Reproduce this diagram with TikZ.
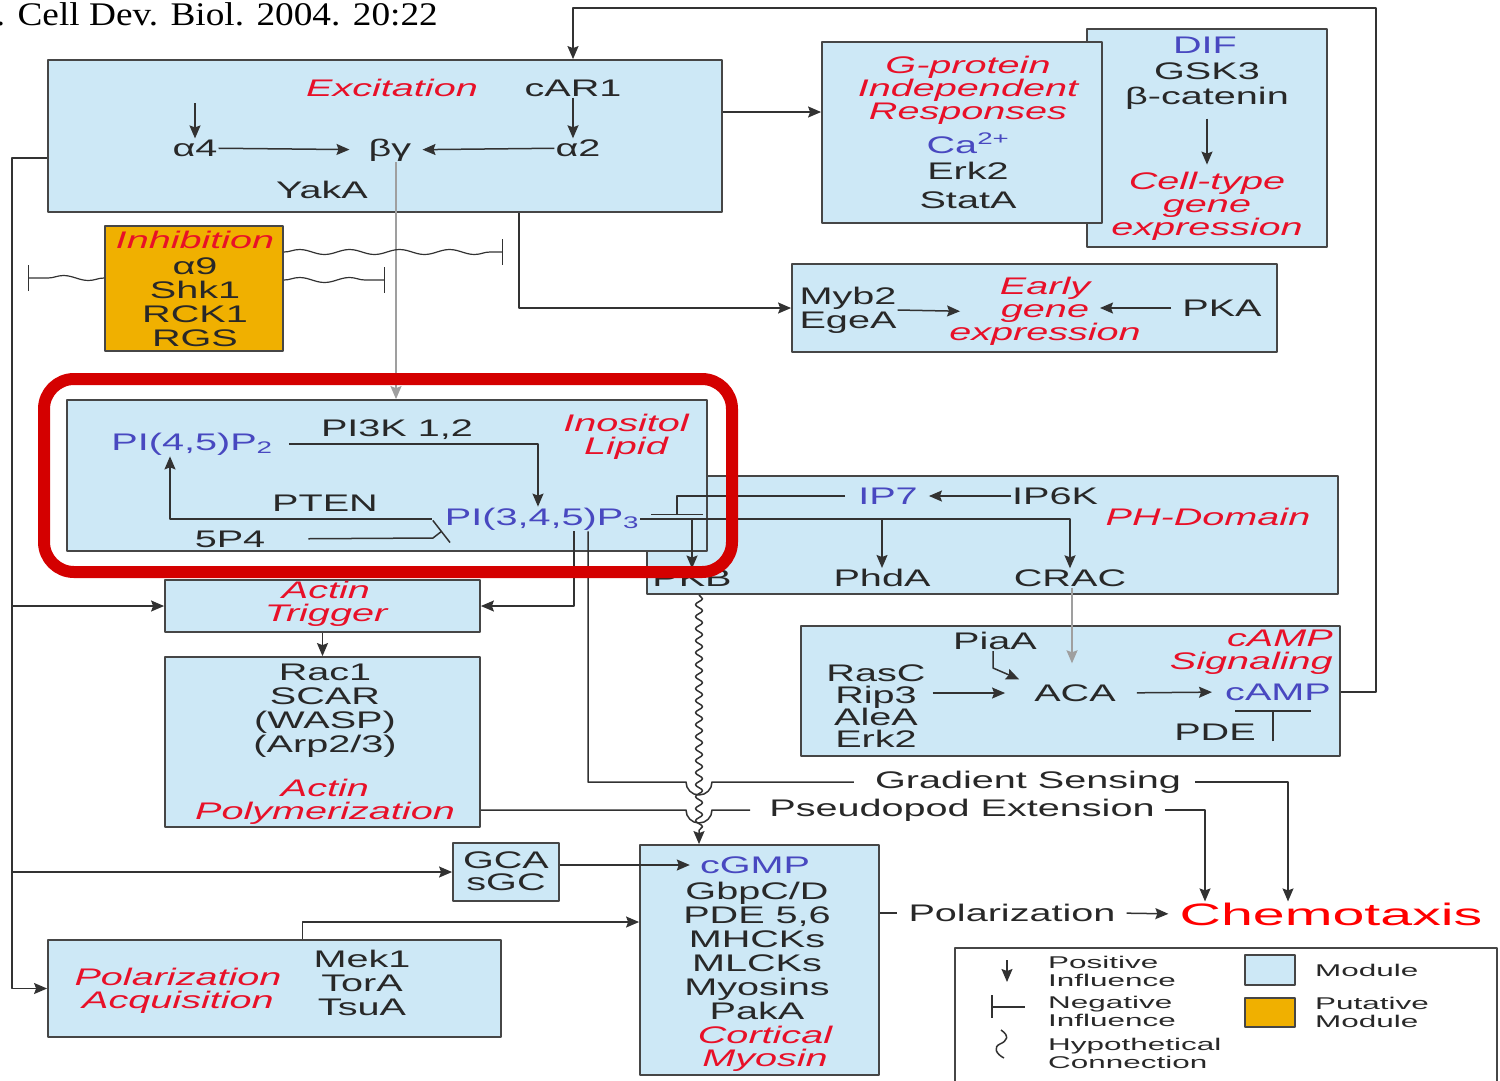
\documentclass[tikz,border=0pt]{standalone}
\usepackage{fontspec}
\setmainfont{Liberation Sans}[FakeStretch=1.65]
\newfontfamily\widefont{Liberation Sans}[FakeStretch=1.85]
\newfontfamily\citefont{Liberation Serif}[FakeStretch=1.13]
\usepackage{tikz}
\usetikzlibrary{arrows.meta,fit,decorations.pathmorphing}
\definecolor{modfill}{RGB}{205,232,246}
\definecolor{putfill}{RGB}{240,176,0}
\definecolor{boxline}{RGB}{70,70,70}
\definecolor{wire}{RGB}{50,50,50}
\definecolor{titred}{RGB}{232,16,40}
\definecolor{molblue}{RGB}{72,72,192}
\definecolor{txtgray}{RGB}{40,40,40}
\definecolor{focusred}{RGB}{212,0,0}

\begin{document}
\begin{tikzpicture}[x=1pt, y=-1pt, >={Stealth[length=13pt, width=11pt, inset=2pt]}, line join=round,
	modul/.style={draw=boxline, fill=modfill, line width=1.8pt, inner sep=0pt},
	putativ/.style={modul, fill=putfill},
	lbl/.style={font=\fontsize{24}{24}\selectfont, text=txtgray, align=center, inner sep=1pt},
	tit/.style={lbl, font=\fontsize{24}{23}\selectfont\itshape, text=titred},
	mol/.style={lbl, text=molblue},
	leg/.style={font=\widefont\fontsize{17}{18}\selectfont, text=txtgray, align=left, anchor=west, inner sep=0pt},
	conn/.style={draw=wire, line width=1.5pt},
	act/.style={conn, ->},
	inhib/.style={conn, -{Bar[width=#1]}},
	inhib/.default=26pt,
	hyp/.style={conn, decorate, decoration={snake, amplitude=3.5pt, segment length=12pt, post length=12pt}},
	hypneg/.style={conn, line width=1.2pt, decorate, decoration={snake, amplitude=2.5pt, segment length=50pt, post length=1pt}, -{Bar[width=26pt]}}]
	\useasboundingbox (0,0) rectangle (1500,1080);
	% Trích dẫn
	\node[font=\citefont\fontsize{33}{33}\selectfont, anchor=base east, inner sep=0pt] (cite) at (438,25) {. Cell Dev. Biol. 2004. 20:22};
	% Các khung module
	\node[modul, fit={(48,60) (722,212)}] (exc) {};
	\node[putativ, fit={(105,226) (283,351)}] (inh) {};
	\node[modul, fit={(1087,29) (1327,247)}] (dif) {};
	\node[modul, fit={(822,42) (1102,223)}] (gpi) {};
	\node[modul, fit={(792,264) (1277,352)}] (egx) {};
	\node[modul, fit={(647,476) (1338,594)}] (phd) {};
	\node[modul, fit={(67,400) (707,551)}] (ino) {};
	\node[modul, fit={(165,580) (480,632)}] (atr) {};
	\node[modul, fit={(165,657) (480,827)}] (apo) {};
	\node[modul, fit={(801,626) (1340,756)}] (cas) {};
	\node[modul, fit={(453,843) (559,901)}] (gca) {};
	\node[modul, fit={(640,845) (879,1075)}] (cmy) {};
	\node[modul, fit={(48,940) (501,1037)}] (pac) {};
	% Nhãn: Excitation
	\node[tit] (excT) at (392,88) {Excitation};
	\node[lbl] (car1) at (573,88) {cAR1};
	\node[lbl] (a4) at (195,148) {α4};
	\node[lbl] (bg) at (390,150) {βγ};
	\node[lbl] (a2) at (578,148) {α2};
	\node[lbl] (yaka) at (322,190) {YakA};
	% Nhãn: Inhibition
	\node[tit] (inhT) at (195,240) {Inhibition};
	\node[lbl] (inhM) at (195,302) {α9\\Shk1\\RCK1\\RGS};
	% Nhãn: G-protein, DIF, Early gene
	\node[tit] (gpiT) at (968,90) {G-protein\\Independent\\Responses};
	\node[mol] (ca) at (968,143) {Ca\textsuperscript{2+}};
	\node[lbl] (gpiM) at (968,185) {Erk2\\[5pt]StatA};
	\node[mol] (difM) at (1205,45) {DIF};
	\node[lbl] (gsk) at (1207,86) {GSK3\\[1pt]β-catenin};
	\node[tit] (ctyp) at (1207,206) {Cell-type\\gene\\expression};
	\node[lbl] (myb) at (848,310) {Myb2\\EgeA};
	\node[tit] (egT) at (1045,311) {Early\\gene\\expression};
	\node[lbl] (pka) at (1222,308) {PKA};
	% Nhãn: Inositol Lipid, PH-Domain
	\node[mol] (pip2) at (192,444) {PI(4,5)P\textsubscript{2}};
	\node[lbl] (pi3k) at (397,430) {PI3K 1,2};
	\node[tit] (inoT) at (626,437) {Inositol\\Lipid};
	\node[lbl] (pten) at (325,503) {PTEN};
	\node[mol] (pip3) at (542,519) {PI(3,4,5)P\textsubscript{3}};
	\node[lbl] (p54) at (230,539) {5P4};
	\node[mol] (ip7) at (888,496) {IP7};
	\node[lbl] (ip6k) at (1055,496) {IP6K};
	\node[tit] (phT) at (1208,517) {PH-Domain};
	\node[lbl] (pkb) at (692,578) {PKB};
	\node[lbl] (phda) at (882,578) {PhdA};
	\node[lbl] (crac) at (1070,578) {CRAC};
	% Nhãn: cAMP Signaling
	\node[lbl] (piaa) at (995,641) {PiaA};
	\node[lbl] (rasc) at (876,706) {RasC\\[-2pt]Rip3\\[-2pt]AleA\\[-2pt]Erk2};
	\node[lbl] (aca) at (1075,693) {ACA};
	\node[mol] (camp) at (1278,692) {cAMP};
	\node[tit, align=right, anchor=east] (casT) at (1334,652) {cAMP\\Signaling};
	\node[lbl] (pde) at (1215,732) {PDE};
	% Nhãn: Actin, GCA, Cortical Myosin, Polarization Acquisition
	\node[tit] (atrT) at (326,604) {Actin\\Trigger};
	\node[lbl] (apoM) at (325,711) {Rac1\\SCAR\\(WASP)\\(Arp2/3)};
	\node[tit] (apoT) at (325,802) {Actin\\Polymerization};
	\node[lbl] (gcaM) at (506,871) {GCA\\[-2pt]sGC};
	\node[mol] (cgmp) at (755,865) {cGMP};
	\node[lbl] (cmyM) at (757,951) {GbpC/D\\PDE 5,6\\MHCKs\\MLCKs\\Myosins\\PakA};
	\node[tit] (cmyT) at (765,1049) {Cortical\\Myosin};
	\node[tit] (pacT) at (178,991) {Polarization\\Acquisition};
	\node[lbl] (pacM) at (362,983) {Mek1\\TorA\\TsuA};
	% Nhãn: đầu ra
	\node[lbl] (gsens) at (1028,782) {Gradient Sensing};
	\node[lbl] (pseu) at (962,810) {Pseudopod Extension};
	\node[lbl] (pola) at (1012,913) {Polarization};
	\node[font=\widefont\fontsize{31}{31}\selectfont, text=red, inner sep=1pt] (chemo) at (1331,914) {Chemotaxis};
	% Điểm phụ
	\coordinate (a4in) at (195,103);
	\coordinate (fbk) at (1376,8);
	\coordinate (bus) at (12,0);
	\coordinate (w1) at (503,252);
	\coordinate (w2) at (385,280);
	\coordinate (w3) at (28,278);
	\coordinate (egk) at (1100,308);
	\coordinate (p54k) at (433,538);
	\coordinate (p54e) at (442,531);
	\coordinate (ip7b) at (677,515);
	\coordinate (wv) at (699,0);
	\coordinate (hopG) at (686,782);
	\coordinate (hopP) at (686,810);
	\coordinate (piak) at (993,668);
	\coordinate (pdeb) at (1273,710);
	% Mũi tên trong Excitation
	\draw[act] (a4in) -- (a4);
	\draw[act] (car1) -- (car1 |- a2.north);
	\draw[act, shorten >=18pt] (a4) -- (bg);
	\draw[act, shorten >=10pt] (a2) -- (bg);
	\draw[act, draw=gray!75] ([xshift=6pt]bg.south) -- ([xshift=6pt]bg.south |- ino.north);
	% Từ Excitation đi ra
	\draw[act] ([yshift=24pt]exc.east) -- ([yshift=24pt]exc.east -| gpi.west);
	\draw[act] ([xshift=134pt]exc.south) |- (egx.west);
	\draw[act] (cas.east |- camp) -| (fbk) -| (car1 |- exc.north);
	\draw[act] ([yshift=-22pt]exc.west) -| (bus |- pac.west) -- (pac.west);
	\draw[act] (bus |- atr.west) -- (atr.west);
	\draw[act] (bus |- gca.west) -- (gca.west);
	% Ức chế (giả định)
	\draw[hypneg] (inh.east |- w1) -- (w1);
	\draw[hypneg] (inh.east |- w2) -- (w2);
	\draw[hypneg] (inh.west |- w3) -- (w3);
	% DIF, Early gene
	\draw[act, shorten <=8pt, shorten >=6pt] (gsk) -- (ctyp);
	\draw[act, shorten >=-12pt] (myb.east) -- (egT.west);
	\draw[act, shorten <=10pt] (pka.west) -- (egk);
	% Inositol Lipid
	\draw[act, shorten <=15pt] (pip2.east) -| ([xshift=-4pt]pip3.north);
	\draw[act, shorten <=12pt] (pip3.west) -| ([xshift=-22pt]pip2.south);
	\draw[inhib=28pt, shorten <=42pt] (p54.east) -- (p54k) -- (p54e);
	% PH-Domain
	\draw[act, shorten >=10pt] (ip6k) -- (ip7);
	\draw[inhib=52pt, shorten <=12pt] (ip7.west) -| (ip7b);
	\draw[act] (pip3.east) -| (crac.north);
	\draw[act] (pip3.east -| phda) -- (phda.north);
	\draw[act] (pip3.east -| pkb) -- (pkb.north);
	\draw[act] ([xshift=32pt]pip3.south) |- (atr.east);
	\draw[conn, shorten >=20pt] ([xshift=46pt]pip3.south) |- (hopG) arc[start angle=180, end angle=0, radius=13] -- (gsens.west);
	\draw[conn, shorten >=18pt] ([yshift=-68pt]apo.east) -- (hopP) arc[start angle=180, end angle=0, radius=13] -- (pseu.west);
	\draw[hyp, ->] (phd.south -| wv) -- (cmy.north -| wv);
	% cAMP Signaling
	\draw[act, draw=gray!75, shorten >=20pt] ([xshift=2pt]crac.south) -- ([xshift=2pt]crac.south |- aca.north);
	\draw[act] (piaa.south -| piak) -- (piak) -- ([xshift=-14pt, yshift=4pt]aca.north west);
	\draw[act, shorten <=6pt, shorten >=28pt] (rasc.east |- aca) -- (aca.west);
	\draw[act, shorten <=20pt, shorten >=12pt] (aca.east) -- (camp.west);
	\draw[inhib=76pt] (pdeb |- pde.south) -- (pdeb);
	% Actin, cGMP, Polarization
	\draw[act] (atr) -- (apo);
	\draw[act, shorten >=9pt] (gca.east |- cgmp) -- (cgmp.west);
	\draw[act] ([xshift=28pt]pac.north) |- ([yshift=38pt]cmy.west);
	% Chemotaxis
	\draw[act, shorten <=13pt] (gsens.east) -| ([xshift=-43pt]chemo.north);
	\draw[act, shorten <=9pt] (pseu.east) -| ([xshift=-126pt]chemo.north);
	\draw[conn, shorten >=10pt] (cmy.east |- pola) -- (pola.west);
	\draw[act, shorten <=10pt, shorten >=10pt] (pola.east) -- (chemo.west);
	% Chú giải
	\node[draw=boxline, line width=1.5pt, fit={(955,948) (1497,1095)}, inner sep=0pt] (legend) {};
	\draw[act] (1007,960) -- (1007,982);
	\draw[conn] (992,995) -- (992,1018);
	\draw[conn] (992,1007) -- (1025,1007);
	\draw[conn] (1001,1030) .. controls (1010,1036) and (1007,1041) .. (1000,1044) .. controls (993,1047) and (996,1054) .. (1004,1058);
	\node[leg] (legP) at (1048,971) {Positive\\Influence};
	\node[leg] (legN) at (1048,1011) {Negative\\Influence};
	\node[leg] (legH) at (1048,1053) {Hypothetical\\Connection};
	\node[modul, line width=1.5pt, fit={(1245,955) (1295,985)}] (swM) {};
	\node[putativ, line width=1.5pt, fit={(1245,998) (1295,1027)}] (swP) {};
	\node[leg] (legM) at (1315,970) {Module};
	\node[leg] (legPM) at (1315,1012) {Putative\\Module};
	% Khung đỏ nhấn mạnh
	\node[draw=focusred, line width=12pt, rounded corners=30pt, fit={(44,379) (732,572)}, inner sep=0pt] (focus) {};
\end{tikzpicture}
\end{document}
